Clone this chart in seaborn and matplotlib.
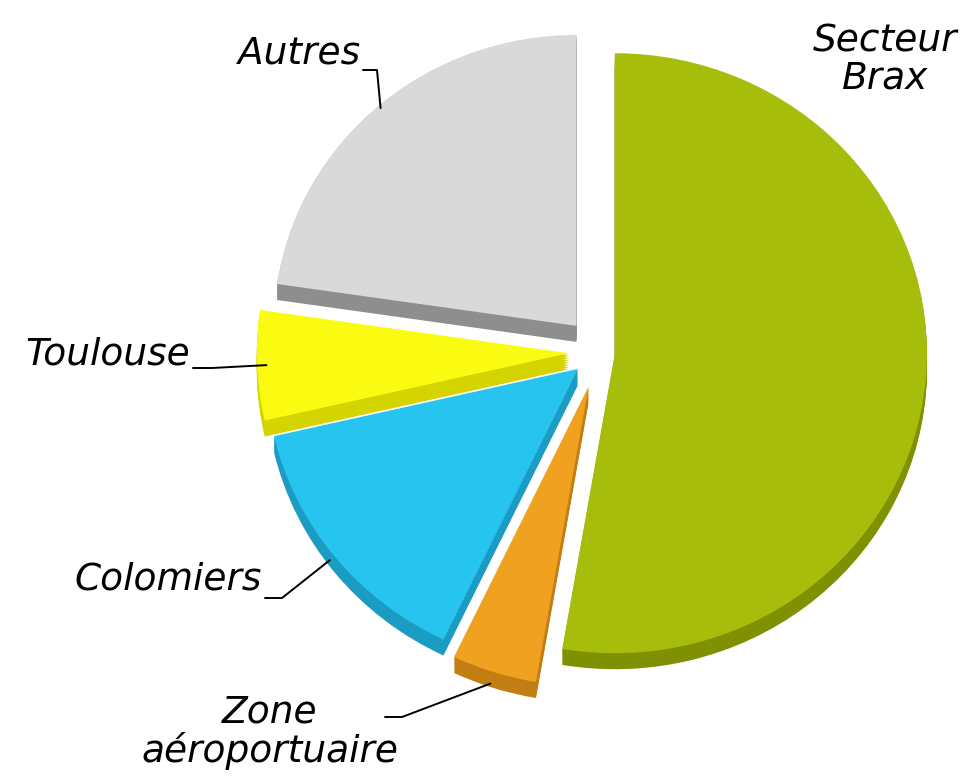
import matplotlib
matplotlib.use("Agg")
import matplotlib.pyplot as plt
import numpy as np
import seaborn as sns

# data (shares in %)
sectors = ["Secteur\nBrax", "Zone\naéroportuaire", "Colomiers", "Toulouse", "Autres"]
shares = [52.7, 4.4, 14.3, 5.9, 22.7]

top_colors = ["#a6bd0b", "#efa11f", "#27c4f0", "#fbfb12", "#d9d9d9"]
side_colors = ["#7f9100", "#c27e12", "#1b9cc2", "#d4d400", "#8e8e8e"]
explode = [0.048, 0.12, 0.09, 0.10, 0.115]
# the far (upper) slice looks a bit smaller in the tilted original
persp = [1.0, 1.0, 1.0, 1.0, 0.97]

W, H = 973, 777
CX, CY = 600, 352   # pie centre in pixels
RX, RY = 312, 300   # radii in pixels (slightly tilted pie)
DEPTH = 16          # thickness of the 3d edge in pixels


def px(x, y):
    """pixel position (from top-left) -> data coords"""
    return (x - CX) / RX, (CY - y) / RY


def draw_pie(colors, dy=0.0):
    ws, _ = ax.pie(shares, explode=explode, colors=colors, startangle=90,
                   counterclock=False, center=(0, -dy),
                   wedgeprops=dict(linewidth=0))
    for w, s in zip(ws, persp):
        w.set_radius(w.r * s)
    return ws


sns.set_theme(style="white")
plt.rcParams["font.family"] = ["DejaVu Sans"]

fig = plt.figure(figsize=(W / 100, H / 100), dpi=100)
ax = fig.add_axes([0, 0, 1, 1])

# extruded side: stack of darker pies shifted down
for d in np.linspace(DEPTH / RY, 0, 10)[:-1]:
    draw_pie(side_colors, d)
wedges = draw_pie(top_colors)

ax.set_aspect("auto")
ax.set_xlim(px(0, 0)[0], px(W, 0)[0])
ax.set_ylim(px(0, H)[1], px(0, 0)[1])
ax.axis("off")

label_style = dict(fontsize=27, fontstyle="italic", color="black",
                   linespacing=1.05, va="center")

# text anchor, alignment, leader start, leader elbow (pixels), radius of leader end
layout = [
    ((885, 60), "center", None, None, None),
    ((270, 732), "center", (385, 717), (402, 717), 1.04),
    ((262, 579), "right", (265, 598), (282, 598), 1.02),
    ((190, 355), "right", (193, 368), (212, 368), 0.97),
    ((360, 54), "right", (363, 70), (377, 70), 0.96),
]

for name, w, (pos, ha, start, elbow, r) in zip(sectors, wedges, layout):
    ax.text(*px(*pos), name, ha=ha, **label_style)
    if start is None:
        continue
    mid = np.deg2rad((w.theta1 + w.theta2) / 2)
    cx, cy = w.center
    end = (cx + r * np.cos(mid), cy + r * np.sin(mid))
    pts = [px(*start), px(*elbow), end]
    ax.plot([p[0] for p in pts], [p[1] for p in pts], color="black", lw=1.4)

fig.savefig("out.png", dpi=100, facecolor="white")
